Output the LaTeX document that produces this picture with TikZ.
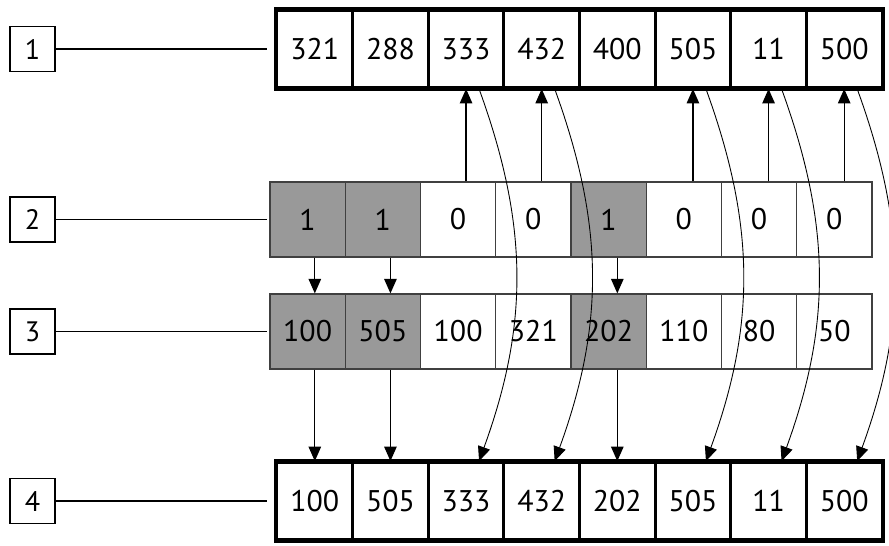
\documentclass[tikz,border=0pt]{standalone}
\usepackage{fontspec}
\setmainfont{PT Sans}
\usetikzlibrary{arrows.meta}

\begin{document}
\begin{tikzpicture}[
  cell/.style={draw, line width=1.6pt, minimum width=1.5125cm, minimum height=1.54cm, inner sep=0pt, font=\fontsize{17}{20}\selectfont},
  flag/.style={draw=black!75, line width=0.7pt, minimum width=1.505cm, minimum height=1.5cm, inner sep=0pt, font=\fontsize{17}{20}\selectfont},
  lab/.style={draw, line width=0.8pt, minimum size=0.9cm, inner sep=0pt, font=\fontsize{16}{19}\selectfont},
  arr/.style={-{Triangle[length=2.9mm,width=2.5mm]}, line width=0.7pt}
]
\useasboundingbox (0,0) rectangle (17.78,10.9);
% labels on the left
\node[lab] (L1) at (0.65,9.92) {1};
\node[lab] (L2) at (0.65,6.51) {2};
\node[lab] (L3) at (0.65,4.27) {3};
\node[lab] (L4) at (0.65,0.88) {4};
\coordinate (E1) at (5.34,9.92);
\coordinate (E2) at (5.34,6.51);
\coordinate (E3) at (5.34,4.27);
\coordinate (E4) at (5.34,0.88);
\foreach \k in {1,...,4} \draw[line width=0.8pt] (L\k) -- (E\k);
% row 1: input
\foreach \v [count=\i] in {321,288,333,432,400,505,11,500}
  \node[cell] (A\i) at ({5.54+(\i-0.5)*1.5125},9.92) {\v};
\draw[line width=2pt] (A1.north west) rectangle (A8.south east);
% row 2: flags
\foreach \v/\f [count=\i] in {1/black!40,1/black!40,0/white,0/white,1/black!40,0/white,0/white,0/white}
  \node[flag, fill=\f] (B\i) at ({5.4+(\i-0.5)*1.505},6.51) {\v};
% row 3: new values
\foreach \v/\f [count=\i] in {100/black!40,505/black!40,100/white,321/white,202/black!40,110/white,80/white,50/white}
  \node[flag, fill=\f] (C\i) at ({5.4+(\i-0.5)*1.505},4.27) {\v};
% row 4: result
\foreach \v [count=\i] in {100,505,333,432,202,505,11,500}
  \node[cell] (D\i) at ({5.54+(\i-0.5)*1.5125},0.88) {\v};
\draw[line width=2pt] (D1.north west) rectangle (D8.south east);
% flag 1: take new value
\foreach \i in {1,2,5} {
  \draw[arr] (B\i.south -| A\i) -- (C\i.north -| A\i);
  \draw[arr] (C\i.south -| A\i) -- (D\i.north);
}
% flag 0: keep old value
\foreach \i in {3,4,6,7,8} {
  \draw[arr] (B\i.north -| A\i) -- (A\i.south);
  \draw[arr, line width=0.5pt] ([xshift=2.6mm]A\i.south) to[bend left=20] ([xshift=2.6mm]D\i.north);
}
\end{tikzpicture}
\end{document}
